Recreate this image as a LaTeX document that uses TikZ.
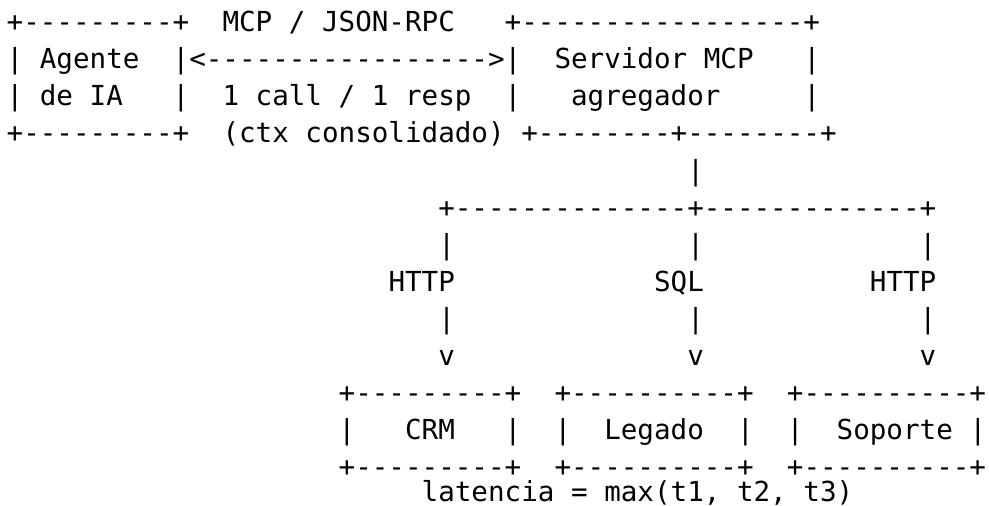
\documentclass[tikz,border=0pt]{standalone}
\usepackage{fontspec}
\setmonofont{DejaVu Sans Mono}
\newcommand\asciiseg[5][]{\node[txt,#1] (#2) at ({6.7+16.6*#4}, {-31.6-37.1*(#3-1)}) {#5};}
\begin{document}
\begin{tikzpicture}[x=1pt,y=1pt,
  txt/.style={anchor=base west, inner sep=0pt, outer sep=0pt, text=black,
    font=\ttfamily\fontsize{27.57}{33}\selectfont}]
\path[use as bounding box, fill=white] (0,0) rectangle (989,-506);
% line 1
\asciiseg{l1a}{1}{0}{+---------+}
\asciiseg{l1b}{1}{13}{MCP / JSON-RPC}
\asciiseg{l1c}{1}{30}{+-----------------+}
% line 2
\asciiseg{l2a}{2}{0}{|}
\asciiseg{l2b}{2}{2}{Agente}
\asciiseg{l2c}{2}{10}{|<----------------->|}
\asciiseg{l2d}{2}{33}{Servidor MCP}
\asciiseg{l2e}{2}{48}{|}
% line 3
\asciiseg{l3a}{3}{0}{|}
\asciiseg{l3b}{3}{2}{de IA}
\asciiseg{l3c}{3}{10}{|}
\asciiseg{l3d}{3}{13}{1 call / 1 resp}
\asciiseg{l3e}{3}{30}{|}
\asciiseg{l3f}{3}{34}{agregador}
\asciiseg{l3g}{3}{48}{|}
% line 4
\asciiseg{l4a}{4}{0}{+---------+}
\asciiseg{l4b}{4}{13}{(ctx consolidado)}
\asciiseg{l4c}{4}{31}{+--------+--------+}
% line 5
\asciiseg{l5a}{5}{41}{|}
% line 6
\asciiseg{l6a}{6}{26}{+--------------+-------------+}
% line 7
\asciiseg{l7a}{7}{26}{|}
\asciiseg{l7b}{7}{41}{|}
\asciiseg{l7c}{7}{55}{|}
% line 8
\asciiseg{l8a}{8}{23}{HTTP}
\asciiseg{l8b}{8}{39}{SQL}
\asciiseg{l8c}{8}{52}{HTTP}
% line 9
\asciiseg{l9a}{9}{26}{|}
\asciiseg{l9b}{9}{41}{|}
\asciiseg{l9c}{9}{55}{|}
% line 10
\asciiseg{l10a}{10}{26}{v}
\asciiseg{l10b}{10}{41}{v}
\asciiseg{l10c}{10}{55}{v}
% line 11
\asciiseg{l11a}{11}{20}{+---------+}
\asciiseg{l11b}{11}{33}{+----------+}
\asciiseg{l11c}{11}{47}{+----------+}
% line 12
\asciiseg{l12a}{12}{20}{|}
\asciiseg{l12b}{12}{24}{CRM}
\asciiseg{l12c}{12}{30}{|}
\asciiseg{l12d}{12}{33}{|}
\asciiseg{l12e}{12}{36}{Legado}
\asciiseg{l12f}{12}{44}{|}
\asciiseg{l12g}{12}{47}{|}
\asciiseg{l12h}{12}{50}{Soporte}
\asciiseg{l12i}{12}{58}{|}
% line 13
\asciiseg[text depth=0pt]{l13a}{13}{20}{+---------+}
\asciiseg[text depth=0pt]{l13b}{13}{33}{+----------+}
\asciiseg[text depth=0pt]{l13c}{13}{47}{+----------+}
% line 14
\asciiseg[text depth=3pt]{l14a}{13.66}{25}{latencia = max(t1, t2, t3)}
\end{tikzpicture}
\end{document}
